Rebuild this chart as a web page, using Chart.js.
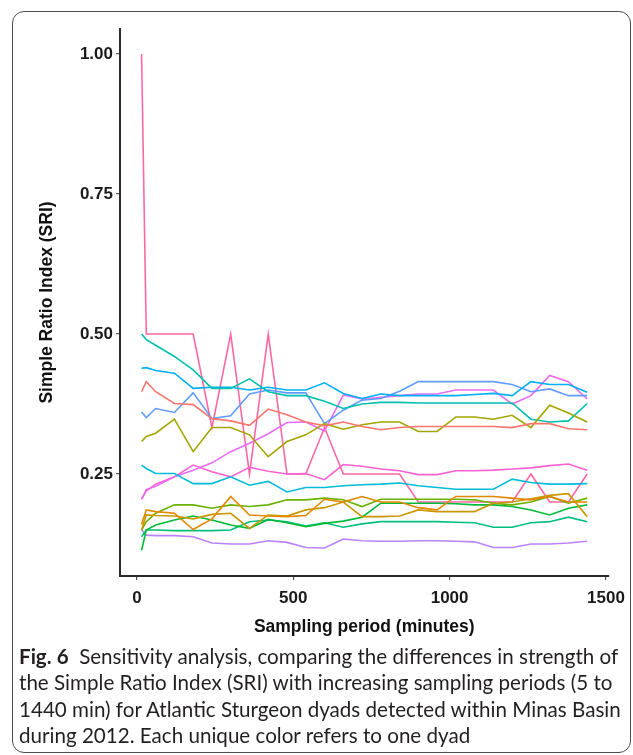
<!DOCTYPE html>
<html>
<head>
<meta charset="utf-8">
<script src="https://cdn.jsdelivr.net/npm/chart.js@4.4.1/dist/chart.umd.min.js"></script>
<style>
  html, body { margin: 0; padding: 0; background: #fff; width: 633px; height: 755px; overflow: hidden; }
  #frame {
    position: absolute; left: 12px; top: 11px; width: 619px; height: 742px;
    border: 1.3px solid #4d4d4d; border-radius: 12px; box-sizing: border-box;
  }
  #chartBox { position: absolute; left: 0; top: 0; width: 633px; height: 645px; }
  #caption {
    position: absolute; left: 19px; top: 643px; white-space: nowrap;
    font-family: Lato, "Noto Sans", sans-serif; font-size: 20.6px; line-height: 26.3px; color: #231f20;
  }
  #caption b { font-weight: 700; }
</style>
</head>
<body>
<div id="frame"></div>
<div id="chartBox"><canvas id="sriChart" width="633" height="645"></canvas></div>
<div id="caption"><b>Fig. 6</b>&nbsp; Sensitivity analysis, comparing the differences in strength of<br>the Simple Ratio Index (SRI) with increasing sampling periods (5 to<br>1440 min) for Atlantic Sturgeon dyads detected within Minas Basin<br>during 2012. Each unique color refers to one dyad</div>
<script>
// sampling periods (minutes)
const periods = [15, 30, 60, 120, 180, 240, 300, 360, 420, 480, 540, 600, 660, 720, 780, 840, 900, 960, 1020, 1080, 1140, 1200, 1260, 1320, 1380, 1440];

const xTicks = [0, 500, 1000, 1500];
const yTicks = [0.25, 0.5, 0.75, 1.0];

// one SRI series per dyad, ggplot hue order
const dyadSalmon  = [0.397, 0.415, 0.397, 0.376, 0.374, 0.349, 0.345, 0.337, 0.366, 0.356, 0.343, 0.336, 0.343, 0.335, 0.329, 0.333, 0.335, 0.335, 0.335, 0.335, 0.335, 0.333, 0.340, 0.340, 0.331, 0.329];
const dyadOrange  = [0.160, 0.186, 0.183, 0.180, 0.151, 0.170, 0.210, 0.177, 0.175, 0.174, 0.176, 0.205, 0.200, 0.210, 0.200, 0.200, 0.190, 0.186, 0.210, 0.210, 0.210, 0.207, 0.204, 0.210, 0.200, 0.200];
const dyadGold    = [0.150, 0.177, 0.176, 0.175, 0.170, 0.178, 0.180, 0.153, 0.177, 0.175, 0.186, 0.190, 0.200, 0.174, 0.174, 0.175, 0.186, 0.183, 0.183, 0.183, 0.198, 0.200, 0.206, 0.212, 0.215, 0.174];
const dyadOlive   = [0.308, 0.317, 0.323, 0.348, 0.290, 0.333, 0.333, 0.320, 0.281, 0.308, 0.320, 0.340, 0.330, 0.338, 0.343, 0.343, 0.326, 0.326, 0.352, 0.352, 0.348, 0.355, 0.333, 0.373, 0.359, 0.343];
const dyadLime    = [0.150, 0.165, 0.180, 0.195, 0.195, 0.189, 0.195, 0.192, 0.195, 0.204, 0.204, 0.207, 0.204, 0.192, 0.205, 0.205, 0.205, 0.205, 0.205, 0.204, 0.198, 0.195, 0.200, 0.210, 0.198, 0.207];
const dyadGreen   = [0.114, 0.150, 0.159, 0.168, 0.175, 0.168, 0.159, 0.153, 0.169, 0.163, 0.156, 0.162, 0.166, 0.173, 0.198, 0.198, 0.198, 0.198, 0.197, 0.195, 0.195, 0.192, 0.186, 0.177, 0.189, 0.195];
const dyadJade    = [0.138, 0.150, 0.150, 0.149, 0.149, 0.149, 0.150, 0.165, 0.168, 0.165, 0.157, 0.163, 0.155, 0.161, 0.165, 0.165, 0.165, 0.165, 0.164, 0.163, 0.155, 0.155, 0.163, 0.165, 0.173, 0.165];
const dyadTeal    = [0.500, 0.490, 0.480, 0.460, 0.436, 0.403, 0.403, 0.420, 0.397, 0.390, 0.390, 0.380, 0.367, 0.375, 0.378, 0.378, 0.377, 0.377, 0.377, 0.377, 0.377, 0.377, 0.348, 0.343, 0.345, 0.376];
const dyadCyan    = [0.266, 0.260, 0.251, 0.251, 0.233, 0.233, 0.245, 0.230, 0.237, 0.218, 0.226, 0.226, 0.229, 0.231, 0.232, 0.234, 0.229, 0.226, 0.223, 0.223, 0.223, 0.241, 0.235, 0.232, 0.232, 0.233];
const dyadSky     = [0.439, 0.440, 0.435, 0.430, 0.403, 0.405, 0.405, 0.400, 0.405, 0.400, 0.400, 0.413, 0.394, 0.385, 0.393, 0.390, 0.390, 0.390, 0.390, 0.392, 0.394, 0.390, 0.415, 0.410, 0.410, 0.396];
const dyadBlue    = [0.361, 0.351, 0.367, 0.360, 0.395, 0.349, 0.354, 0.393, 0.400, 0.395, 0.395, 0.340, 0.364, 0.382, 0.385, 0.398, 0.415, 0.415, 0.415, 0.415, 0.415, 0.410, 0.397, 0.402, 0.390, 0.390];
const dyadLilac   = [0.150, 0.141, 0.140, 0.140, 0.138, 0.127, 0.125, 0.125, 0.131, 0.128, 0.119, 0.118, 0.134, 0.131, 0.130, 0.130, 0.131, 0.131, 0.130, 0.129, 0.119, 0.119, 0.125, 0.125, 0.127, 0.130];
const dyadViolet  = [0.205, 0.222, 0.228, 0.245, 0.257, 0.270, 0.290, 0.305, 0.322, 0.342, 0.343, 0.327, 0.391, 0.384, 0.387, 0.390, 0.393, 0.393, 0.400, 0.400, 0.400, 0.375, 0.390, 0.426, 0.415, 0.384];
const dyadMagenta = [0.205, 0.220, 0.232, 0.245, 0.266, 0.254, 0.245, 0.262, 0.255, 0.250, 0.251, 0.240, 0.267, 0.264, 0.259, 0.256, 0.249, 0.249, 0.256, 0.256, 0.257, 0.259, 0.261, 0.265, 0.268, 0.257];
const dyadPink    = [1.000, 0.500, 0.500, 0.500, 0.500, 0.333, 0.500, 0.250, 0.500, 0.250, 0.250, 0.333, 0.250, 0.250, 0.250, 0.250, 0.200, 0.200, 0.200, 0.200, 0.200, 0.200, 0.250, 0.200, 0.200, 0.250];

const dyadSeries = [dyadSalmon, dyadOrange, dyadGold, dyadOlive, dyadLime, dyadGreen, dyadJade, dyadTeal,
                    dyadCyan, dyadSky, dyadBlue, dyadLilac, dyadViolet, dyadMagenta, dyadPink];
const dyadColors = ['#F8766D', '#E58700', '#C99800', '#A3A500', '#6BB100', '#00BA38', '#00BF7D', '#00C0AF',
                    '#00BCD8', '#00B0F6', '#619CFF', '#B983FF', '#E76BF3', '#FD61D1', '#FF67A4'];

const datasets = dyadSeries.map((vals, i) => ({
    label: 'Dyad ' + (i + 1),
    data: vals.map((v, j) => ({ x: periods[j], y: v })),
    borderColor: dyadColors[i],
    backgroundColor: dyadColors[i],
    borderWidth: 1.6,
    pointRadius: 0,
    tension: 0,
    fill: false
}));

const axisFont = { family: '"Liberation Sans", Arial, sans-serif', size: 17, weight: 'bold' };
const titleFont = { family: '"Liberation Sans", Arial, sans-serif', size: 17.5, weight: 'bold' };

new Chart(document.getElementById('sriChart'), {
    type: 'line',
    data: { datasets: datasets },
    options: {
        responsive: false,
        animation: false,
        devicePixelRatio: 1,
        layout: { padding: { left: 30, right: 23, top: 29, bottom: 0 } },
        plugins: { legend: { display: false }, tooltip: { enabled: false } },
        scales: {
            x: {
                type: 'linear',
                min: -54,
                max: 1508,
                afterBuildTicks: axis => { axis.ticks = xTicks.map(v => ({ value: v })); },
                afterFit: axis => { axis.height = 645 - 576; },
                ticks: { font: axisFont, color: '#1a1a1a', padding: 8, maxRotation: 0, callback: v => String(v) },
                grid: { drawOnChartArea: false, drawTicks: true, tickLength: 4, tickColor: '#555', lineWidth: 1.2 },
                border: { display: true, color: '#2b2b2b', width: 2 },
                title: { display: true, text: 'Sampling period (minutes)', font: titleFont, color: '#111', padding: { top: 0, bottom: 7 } }
            },
            y: {
                type: 'linear',
                min: 0.068,
                max: 1.0446,
                afterBuildTicks: axis => { axis.ticks = yTicks.map(v => ({ value: v })); },
                afterFit: axis => { axis.width = 120 - 30; },
                ticks: { font: axisFont, color: '#1a1a1a', padding: 3, callback: v => v.toFixed(2) },
                grid: { drawOnChartArea: false, drawTicks: true, tickLength: 4, tickColor: '#555', lineWidth: 1.2 },
                border: { display: true, color: '#2b2b2b', width: 2 },
                title: { display: true, text: 'Simple Ratio Index (SRI)', font: titleFont, color: '#111', padding: { top: 7, bottom: 0 } }
            }
        }
    }
});
</script>
</body>
</html>
